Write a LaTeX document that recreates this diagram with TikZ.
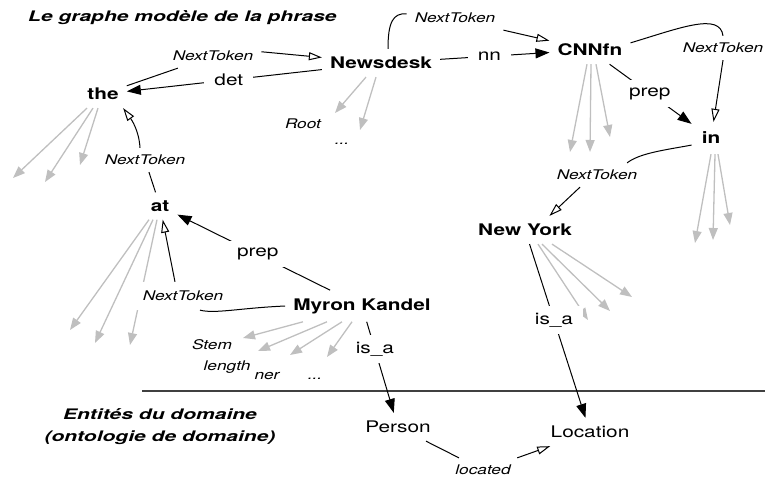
\documentclass[tikz,border=0pt]{standalone}
\usepackage{fontspec}
\setmainfont{TeX Gyre Heros}[FakeStretch=1.3]
\newfontfamily\hdrfont{TeX Gyre Heros}[FakeStretch=1.45]
\usetikzlibrary{arrows.meta,backgrounds}
\begin{document}
\begin{tikzpicture}[x=1pt,y=-1pt,
  tok/.style={font=\fontsize{16}{19}\selectfont\bfseries, inner sep=8pt},
  ent/.style={font=\fontsize{16}{19}\selectfont, inner sep=8pt},
  lbl/.style={font=\fontsize{16}{19}\selectfont, fill=white, inner xsep=10pt, inner ysep=7pt},
  ntl/.style={font=\fontsize{13.3}{16}\selectfont\itshape, fill=white, inner xsep=8pt, inner ysep=7pt},
  note/.style={font=\fontsize{13.3}{16}\selectfont\itshape, inner sep=0pt, anchor=base},
  hdr/.style={font=\hdrfont\fontsize{14.5}{18}\selectfont\bfseries\itshape, inner sep=0pt},
  blk/.style={line width=1pt, -{Triangle[length=14pt,width=10pt]}},
  nxt/.style={line width=1pt, -{Triangle[open,length=13pt,width=8pt]}},
  nxtline/.style={line width=1pt},
  gry/.style={draw=black!25, line width=1.3pt, -{Triangle[length=12pt,width=9pt]}}
]
\useasboundingbox (0,0) rectangle (765,479);

% headers
\node[hdr, anchor=base west] (title) at (28,21) {Le graphe modèle de la phrase};
\node[hdr, anchor=base] (ent1) at (160,419) {Entités du domaine};
\node[hdr, anchor=base] (ent2) at (160,441) {(ontologie de domaine)};
\coordinate (sepL) at (142,391);
\coordinate (sepR) at (765,391);
\draw[line width=1.2pt, black!75] (sepL) -- (sepR);

% token nodes
\node[tok] (the) at (103,94) {the};
\node[tok] (newsdesk) at (381,63) {Newsdesk};
\node[tok] (cnnfn) at (590,50) {CNNfn};
\node[tok, inner sep=10pt] (in) at (711,138) {in};
\node[tok] (newyork) at (525,230) {New York};
\node[tok] (at) at (160,206) {at};
\node[tok] (myron) at (362,306) {Myron Kandel};
\node[ent] (person) at (398,427) {Person};
\node[ent] (location) at (590,432) {Location};

% NextToken labels
\node[ntl] (nt1) at (213,56) {NextToken};
\node[ntl] (nt2) at (455,18) {NextToken};
\node[ntl] (nt3) at (723,48) {NextToken};
\node[ntl] (nt4) at (597,175) {NextToken};
\node[ntl, inner ysep=9pt] (nt5) at (183,296) {NextToken};
\node[ntl] (nt6) at (145,160) {NextToken};
\node[ntl] (nt7) at (483,470) {located};

% small notes
\node[note] (root) at (303,128) {Root};
\node[note] (dots1) at (342,144) {...};
\node[note] (stem) at (212,349) {Stem};
\node[note] (length) at (227,370) {length};
\node[note] (ner) at (267,379) {ner};
\node[note] (dots2) at (315,379) {...};

% grey attribute arrows
\begin{scope}[on background layer]
\draw[gry] ([xshift=-16pt]the.south) -- (13,178);
\draw[gry] ([xshift=-10pt]the.south) -- (45,182);
\draw[gry] ([xshift=-5pt]the.south) -- (80,165);
\draw[gry] ([xshift=-15pt]newsdesk.south) -- (335,113);
\draw[gry] ([xshift=-5pt]newsdesk.south) -- (360,130);
\draw[gry] ([xshift=-3pt]cnnfn.south) -- (570,152);
\draw[gry] ([xshift=1pt]cnnfn.south) -- (590,152);
\draw[gry] ([xshift=6pt]cnnfn.south) -- (610,137);
\draw[gry] ([xshift=0pt]in.south) -- (695,243);
\draw[gry] ([xshift=4pt]in.south) -- (713,240);
\draw[gry] ([xshift=7pt]in.south) -- (730,225);
\draw[gry] ([xshift=-11pt]at.south) -- (70,330);
\draw[gry] ([xshift=-7pt]at.south) -- (95,343);
\draw[gry] ([xshift=-3pt]at.south) -- (130,345);
\draw[gry] ([xshift=13pt]newyork.south) -- (588,320);
\draw[gry] ([xshift=17pt]newyork.south) -- (610,311);
\draw[gry] ([xshift=27pt]newyork.south) -- (632,297);
\draw[gry] ([xshift=-59pt]myron.south) -- (243,338);
\draw[gry] ([xshift=-35pt]myron.south) -- (258,351);
\draw[gry] ([xshift=-20pt]myron.south) -- (290,355);
\draw[gry] ([xshift=-10pt]myron.south) -- (327,357);
\end{scope}

% black labelled relations
\draw[blk] (newsdesk) -- node[lbl,pos=0.477] (det) {det} (the);
\draw[blk] (newsdesk) -- node[lbl,pos=0.45] (nn) {nn} (cnnfn);
\draw[blk] (cnnfn) -- node[lbl,pos=0.49] (prep1) {prep} (in);
\draw[blk] (myron) -- node[lbl,pos=0.474] (prep2) {prep} (at);
\draw[blk] (myron) -- node[lbl,pos=0.30] (isa1) {is\_a} (person);
\draw[blk] (newyork) -- node[lbl,pos=0.437] (isa2) {is\_a} (location);

% NextToken relations
\draw[nxtline] (the) -- (nt1);
\draw[nxt] (nt1.5) -- (newsdesk);
\draw[nxtline] ([xshift=7pt]newsdesk.north) .. controls (388,22) and (393,13) .. (nt2.175);
\draw[nxt] (nt2.south east) -- (cnnfn);
\draw[nxtline] (cnnfn.10) .. controls (680,28) and (720,12) .. (nt3.north);
\draw[nxt] (nt3.south) -- (in);
\draw[nxtline] (in.200) .. controls (665,150) and (640,153) .. (nt4.22);
\draw[nxt] ([xshift=-17pt]nt4.south) -- (newyork.30);
\draw[nxtline] (myron.west) .. controls (240,308) and (215,314) .. ([xshift=17pt]nt5.south);
\draw[nxt] ([xshift=-8pt]nt5.north) -- (at);
\draw[nxtline] (at) -- (nt6);
\draw[nxt] ([xshift=-5pt]nt6.north) .. controls (139,130) and (131,119) .. (the.-35);
\draw[nxtline] (person) -- (nt7);
\draw[nxt] (nt7) -- (location);
\end{tikzpicture}
\end{document}
